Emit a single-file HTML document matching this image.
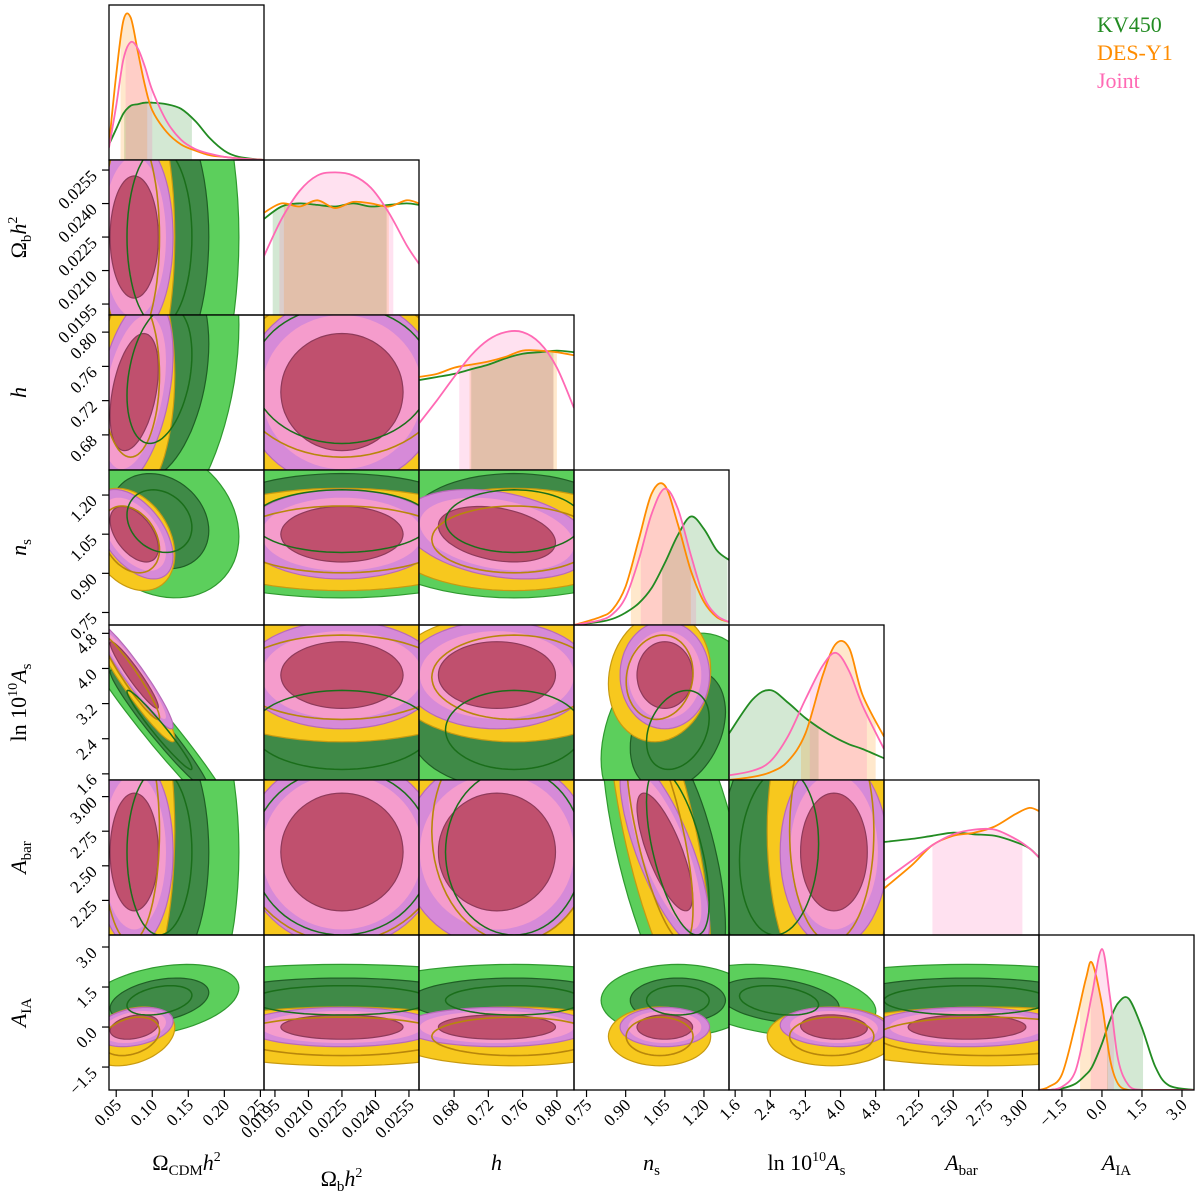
<!DOCTYPE html>
<html><head><meta charset="utf-8"><style>
html,body{margin:0;padding:0;background:#fff}
svg text{font-family:"Liberation Serif",serif}
</style></head><body>
<svg id="chart" width="1200" height="1194" viewBox="0 0 1200 1194" xmlns="http://www.w3.org/2000/svg">
<defs id="defs"></defs>
<g id="panels"></g>
<g id="axes"></g>
<g id="legend">
<text x="1097" y="32" font-size="22" fill="#228b22">KV450</text>
<text x="1097" y="60" font-size="22" fill="#ff8c00">DES-Y1</text>
<text x="1097" y="88" font-size="22" fill="#ff69b4">Joint</text>
</g>
</svg>
<script>
// ---- parameter axes (data ranges) ----
const paramNames = ["omega-cdm","omega-b","h","n-s","ln-as","a-bar","a-ia"];
const rangeLo = [0.04, 0.01901, 0.639, 0.702, 1.46, 2.00, -2.36];
const rangeHi = [0.255, 0.02595, 0.820, 1.296, 4.99, 3.12, 3.45];
const ticks0 = [0.05,0.10,0.15,0.20,0.25];
const ticks1 = [0.0195,0.0210,0.0225,0.0240,0.0255];
const ticks2 = [0.68,0.72,0.76,0.80];
const ticks3 = [0.75,0.90,1.05,1.20];
const ticks4 = [1.6,2.4,3.2,4.0,4.8];
const ticks5 = [2.25,2.50,2.75,3.00];
const ticks6 = [-1.5,0.0,1.5,3.0];
const tickLabels0 = ["0.05","0.10","0.15","0.20","0.25"];
const tickLabels1 = ["0.0195","0.0210","0.0225","0.0240","0.0255"];
const tickLabels2 = ["0.68","0.72","0.76","0.80"];
const tickLabels3 = ["0.75","0.90","1.05","1.20"];
const tickLabels4 = ["1.6","2.4","3.2","4.0","4.8"];
const tickLabels5 = ["2.25","2.50","2.75","3.00"];
const tickLabels6 = ["\u22121.5","0.0","1.5","3.0"];

// ---- 2D posterior summaries (mean, sd, correlations) ----
const kvMean = [0.11, 0.0225, 0.75, 1.10, 2.6, 2.6, 1.0];
const kvSd   = [0.045, 0.004, 0.08, 0.12, 0.9, 0.6, 0.55];
const kvCorr = [[0,2,0.3],[0,3,-0.2],[0,4,-0.97],[0,6,0.35],[3,4,0.3],[3,5,-0.6],[4,6,-0.3],[4,5,0.1]];
const desMean = [0.07, 0.0225, 0.75, 1.03, 3.8, 2.75, -0.35];
const desSd   = [0.025, 0.003, 0.06, 0.08, 0.6, 0.5, 0.45];
const desCorr = [[0,4,-0.95],[3,5,-0.7],[0,3,-0.3],[3,4,0.1],[0,6,0.3]];
const jMean = [0.075, 0.0225, 0.73, 1.05, 3.85, 2.6, 0.0];
const jSd   = [0.022, 0.0018, 0.045, 0.07, 0.5, 0.28, 0.3];
const jCorr = [[0,4,-0.95],[3,5,-0.75],[0,3,-0.5],[2,3,-0.3],[0,2,0.4],[4,6,-0.1],[0,6,0.3]];

// ---- 1D marginals ----
const xs0 = [0.04,0.05,0.06,0.07,0.08,0.09,0.10,0.12,0.14,0.16,0.18,0.20,0.22,0.255];
const kv0 = [0.10,0.20,0.30,0.35,0.36,0.37,0.37,0.36,0.33,0.25,0.14,0.06,0.02,0.0];
const des0 = [0.10,0.55,0.90,0.92,0.70,0.48,0.32,0.18,0.10,0.06,0.03,0.02,0.01,0.0];
const j0 = [0.08,0.35,0.65,0.76,0.72,0.60,0.45,0.25,0.13,0.07,0.04,0.02,0.01,0.0];
const xs1 = [0.01901,0.0198,0.0206,0.0214,0.0222,0.023,0.0238,0.0246,0.0254,0.02595];
const kv1 = [0.62,0.70,0.72,0.71,0.70,0.72,0.70,0.71,0.72,0.71];
const des1 = [0.66,0.72,0.70,0.74,0.69,0.73,0.72,0.70,0.74,0.72];
const j1 = [0.38,0.62,0.80,0.90,0.92,0.90,0.82,0.66,0.45,0.33];
const xs2 = [0.639,0.66,0.68,0.70,0.72,0.74,0.76,0.78,0.80,0.82];
const kv2 = [0.58,0.60,0.62,0.65,0.68,0.72,0.75,0.76,0.77,0.76];
const des2 = [0.60,0.62,0.66,0.68,0.70,0.73,0.77,0.77,0.76,0.74];
const j2 = [0.30,0.45,0.60,0.74,0.84,0.89,0.89,0.82,0.66,0.40];
const xs3 = [0.702,0.80,0.85,0.90,0.95,1.00,1.05,1.10,1.15,1.20,1.25,1.296];
const kv3 = [0,0.02,0.04,0.08,0.14,0.24,0.40,0.58,0.70,0.62,0.48,0.42];
const des3 = [0,0.05,0.10,0.25,0.55,0.85,0.90,0.65,0.35,0.15,0.05,0.02];
const j3 = [0,0.03,0.07,0.18,0.42,0.72,0.88,0.75,0.45,0.18,0.06,0.02];
const xs4 = [1.46,2.0,2.4,2.8,3.2,3.6,3.9,4.2,4.5,4.99];
const kv4 = [0.30,0.52,0.58,0.50,0.40,0.32,0.27,0.23,0.20,0.14];
const des4 = [0,0.02,0.05,0.12,0.30,0.68,0.88,0.85,0.55,0.28];
const j4 = [0.03,0.06,0.12,0.28,0.52,0.74,0.82,0.70,0.48,0.20];
const xs5 = [2.00,2.2,2.35,2.5,2.65,2.8,2.95,3.05,3.12];
const kv5 = [0.60,0.62,0.64,0.66,0.65,0.64,0.60,0.56,0.50];
const des5 = [0.30,0.45,0.58,0.64,0.66,0.70,0.78,0.82,0.80];
const j5 = [0.35,0.48,0.58,0.65,0.68,0.68,0.62,0.56,0.50];
const xs6 = [-2.36,-2.0,-1.5,-1.0,-0.6,-0.37,0.0,0.3,0.6,1.0,1.5,2.0,2.5,3.45];
const kv6 = [0,0,0.01,0.04,0.10,0.15,0.30,0.45,0.56,0.59,0.40,0.15,0.03,0];
const des6 = [0,0.02,0.10,0.42,0.72,0.82,0.55,0.20,0.04,0,0,0,0,0];
const j6 = [0,0,0.02,0.12,0.42,0.62,0.91,0.60,0.20,0.03,0,0,0,0];
const kvInt = [[0.061,0.155],[0.0194,0.0245],[0.70,0.796],[1.04,1.29],[1.46,3.5],null,[0.19,1.54]];
const desInt = [[0.056,0.093],[0.0199,0.0246],[0.698,0.80],[0.92,1.15],[3.1,4.8],null,[-0.82,0.22]];
const jInt = [[0.063,0.10],[0.0197,0.0248],[0.686,0.796],[0.958,1.17],[3.3,4.6],[2.35,3.0],[-0.42,0.45]];

const N=7, X0=109, Y0=5, S=155;
const NS="http://www.w3.org/2000/svg";
const svg=document.getElementById('chart');
const defs=document.getElementById('defs');
const panels=document.getElementById('panels');
const axes=document.getElementById('axes');
function mk(tag,attrs,parent){const e=document.createElementNS(NS,tag);for(const k in attrs)e.setAttribute(k,attrs[k]);if(parent)parent.appendChild(e);return e;}
function xScale(p,v,col){return X0+col*S+(v-rangeLo[p])/(rangeHi[p]-rangeLo[p])*S;}
function yScale(p,v,row){return Y0+(row+1)*S-(v-rangeLo[p])/(rangeHi[p]-rangeLo[p])*S;}
function corrOf(list,a,b){for(const c of list){if((c[0]===a&&c[1]===b)||(c[0]===b&&c[1]===a))return c[2];}return 0;}
function ellipse(mean,sd,corr,px,py,row,col,k){
  const r=corrOf(corr,px,py);let d="";
  for(let t=0;t<=72;t++){const a=t/72*2*Math.PI;
    const xv=mean[px]+k*sd[px]*Math.cos(a);
    const yv=mean[py]+k*sd[py]*(r*Math.cos(a)+Math.sqrt(1-r*r)*Math.sin(a));
    d+=(t?"L":"M")+xScale(px,xv,col).toFixed(1)+","+yScale(py,yv,row).toFixed(1);}
  return d+"Z";
}
const tickArr=[ticks0,ticks1,ticks2,ticks3,ticks4,ticks5,ticks6];
const tickLab=[tickLabels0,tickLabels1,tickLabels2,tickLabels3,tickLabels4,tickLabels5,tickLabels6];
const xsArr=[xs0,xs1,xs2,xs3,xs4,xs5,xs6];
const kvArr=[kv0,kv1,kv2,kv3,kv4,kv5,kv6];
const desArr=[des0,des1,des2,des3,des4,des5,des6];
const jArr=[j0,j1,j2,j3,j4,j5,j6];

function smooth(pts){let d="M"+pts[0][0]+","+pts[0][1];
  for(let i=0;i<pts.length-1;i++){const p0=pts[Math.max(0,i-1)],p1=pts[i],p2=pts[i+1],p3=pts[Math.min(pts.length-1,i+2)];
    const c1x=p1[0]+(p2[0]-p0[0])/6,c1y=p1[1]+(p2[1]-p0[1])/6,c2x=p2[0]-(p3[0]-p1[0])/6,c2y=p2[1]-(p3[1]-p1[1])/6;
    d+="C"+c1x.toFixed(1)+","+c1y.toFixed(1)+" "+c2x.toFixed(1)+","+c2y.toFixed(1)+" "+p2[0].toFixed(1)+","+p2[1].toFixed(1);}
  return d;}

for(let row=0;row<N;row++){
  for(let col=0;col<=row;col++){
    const x=X0+col*S,y=Y0+row*S;
    const g=mk('g',{},panels);
    
    
    const cp=mk('clipPath',{id:'c'+row+'_'+col},defs);
    mk('rect',{x:x,y:y,width:S,height:S},cp);
    const inner=mk('g',{'clip-path':'url(#c'+row+'_'+col+')'},g);
    if(row!==col){
      const px=col,py=row;
      const layers=[
        [kvMean,kvSd,kvCorr,2.45,'#5ccf5c','#2f9a2f'],
        [kvMean,kvSd,kvCorr,1.52,'#3f8a47','#1f5f25'],
        [desMean,desSd,desCorr,2.45,'#f7c81e','#c89a10'],
        [jMean,jSd,jCorr,2.45,'#d68ad8','#b86ab8'],
        [jMean,jSd,jCorr,2.0,'#f59ccc','none'],
        [jMean,jSd,jCorr,1.52,'#c0506e','#8e3a5a']];
      layers.forEach((L,i)=>{const p=mk('path',{d:ellipse(L[0],L[1],L[2],px,py,row,col,L[3]),fill:L[4],stroke:L[5],'stroke-width':1.2},inner);
        
        });
      const l1=mk('path',{d:ellipse(desMean,desSd,desCorr,px,py,row,col,1.6),fill:'none',stroke:'#b8860b','stroke-width':1.6},inner);
      
      
      const l2=mk('path',{d:ellipse(kvMean,kvSd,kvCorr,px,py,row,col,1.0),fill:'none',stroke:'#1a6e1a','stroke-width':1.5},inner);
      
      
    } else {
      const p=row, base=y+S;
      const series=[[kvArr[p],kvInt[p],'#228b22','rgba(34,139,34,0.2)','kv450'],[desArr[p],desInt[p],'#ff8c00','rgba(255,140,0,0.2)','des-y1'],[jArr[p],jInt[p],'#ff69b4','rgba(255,105,180,0.2)','joint']];
      series.forEach((s,si)=>{
        const pts=xsArr[p].map((v,i)=>[xScale(p,v,col),base-s[0][i]*S]);
        const d=smooth(pts);
        if(s[1]){const id='a'+p+'_'+si;const cpa=mk('clipPath',{id:id},defs);
          mk('path',{d:d+"L"+pts[pts.length-1][0]+","+base+"L"+pts[0][0]+","+base+"Z"},cpa);
          const r=mk('rect',{x:xScale(p,s[1][0],col),y:y,width:xScale(p,s[1][1],col)-xScale(p,s[1][0],col),height:S,fill:s[3],'clip-path':'url(#'+id+')'},inner);
          
          }
      });
      series.forEach(s=>{
        const pts=xsArr[p].map((v,i)=>[xScale(p,v,col),base-s[0][i]*S]);
        const c=mk('path',{d:smooth(pts),fill:'none',stroke:s[2],'stroke-width':1.8},inner);
        
        
      });
    }
    const b=mk('rect',{x:x,y:y,width:S,height:S,fill:'none',stroke:'#000','stroke-width':1.3},g);
    
    
  }
}
// bottom ticks
const bottom=Y0+N*S;
for(let col=0;col<N;col++){
  tickArr[col].forEach((v,i)=>{const tx=xScale(col,v,col);
    mk('line',{x1:tx,y1:bottom,x2:tx,y2:bottom+7,stroke:'#000','stroke-width':1.2},axes);
    const t=mk('text',{x:tx+6,y:bottom+16,'font-size':17,'text-anchor':'end',transform:'rotate(-45 '+(tx+6)+' '+(bottom+16)+')'},axes);
    t.textContent=tickLab[col][i];
    
    });
}
// left ticks
for(let row=1;row<N;row++){
  tickArr[row].forEach((v,i)=>{const ty=yScale(row,v,row);
    mk('line',{x1:X0-7,y1:ty,x2:X0,y2:ty,stroke:'#000','stroke-width':1.2},axes);
    const t=mk('text',{x:X0-11,y:ty+7,'font-size':17,'text-anchor':'end',transform:'rotate(-45 '+(X0-11)+' '+(ty+7)+')'},axes);
    t.textContent=tickLab[row][i];
    
    });
}
// axis labels
const labHTML=[
 'Ω<tspan font-size="15" dy="5">CDM</tspan><tspan font-style="italic" dy="-5">h</tspan><tspan font-size="14" dy="-9">2</tspan>',
 'Ω<tspan font-size="15" dy="5">b</tspan><tspan font-style="italic" dy="-5">h</tspan><tspan font-size="14" dy="-9">2</tspan>',
 '<tspan font-style="italic">h</tspan>',
 '<tspan font-style="italic">n</tspan><tspan font-size="15" dy="5">s</tspan>',
 'ln 10<tspan font-size="14" dy="-9">10</tspan><tspan font-style="italic" dy="9">A</tspan><tspan font-size="15" dy="5">s</tspan>',
 '<tspan font-style="italic">A</tspan><tspan font-size="15" dy="5">bar</tspan>',
 '<tspan font-style="italic">A</tspan><tspan font-size="15" dy="5">IA</tspan>'];
for(let c=0;c<N;c++){
  const cx=X0+c*S+S/2, by=(c===1)?1186:1170;
  const t=mk('text',{x:cx,y:by,'font-size':22,'text-anchor':'middle'},axes);
  t.innerHTML=labHTML[c];
  
  
}
for(let r=1;r<N;r++){
  const cy=Y0+r*S+S/2;
  const t=mk('text',{x:0,y:0,'font-size':22,'text-anchor':'middle',transform:'translate(26 '+cy+') rotate(-90)'},axes);
  t.innerHTML=labHTML[r];
  
  
}
</script>
</body></html>
